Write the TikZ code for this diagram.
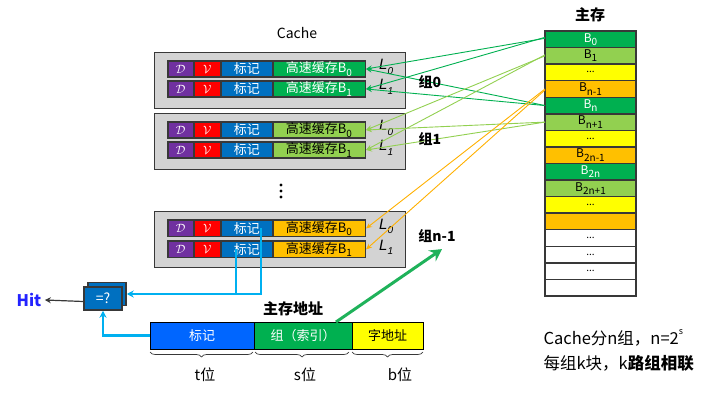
\documentclass[tikz,border=0pt]{standalone}
\usepackage{fontspec}
\setmainfont{Noto Sans CJK SC}
\newfontfamily\latinit{Liberation Sans}
\usetikzlibrary{arrows.meta, positioning, decorations.pathreplacing}
\definecolor{memgreen}{HTML}{00B050}
\definecolor{memlight}{HTML}{92D050}
\definecolor{memyellow}{HTML}{FFFF00}
\definecolor{memorange}{HTML}{FFC000}
\definecolor{orangeline}{HTML}{FFB000}
\definecolor{tagblue}{HTML}{0070C0}
\definecolor{dirtypurple}{HTML}{7030A0}
\definecolor{validred}{HTML}{FF0000}
\definecolor{framegray}{HTML}{383838}
\definecolor{setgray}{HTML}{D3D3D3}
\definecolor{cmpcyan}{HTML}{00B0F0}
\definecolor{addrblue}{HTML}{0066FF}
\definecolor{hitblue}{HTML}{2323FF}
\definecolor{arrowgreen}{HTML}{1FB25A}
\newcommand{\fsz}[1]{\fontsize{#1}{#1}\selectfont}
\newcommand{\blk}[1]{B\raisebox{-0.5ex}{\fsz{10}#1}}
\newcommand{\lineL}[1]{{\latinit\itshape L\raisebox{-0.55ex}{\fsz{10}#1}}}

\begin{document}
\begin{tikzpicture}[
    x=1pt, y=-1pt,
    setbox/.style={draw=framegray, fill=setgray, line width=0.8pt, minimum width=251pt, minimum height=56pt, inner sep=0pt},
    rowframe/.style={fill=framegray, minimum width=199pt, minimum height=18pt, inner sep=0pt, outer sep=0pt},
    cell/.style={fill=#1, minimum height=14.5pt, inner sep=0pt, outer sep=0pt, font=\fsz{13}},
    dcell/.style={cell=dirtypurple, minimum width=24.5pt, text=white, font=\fsz{12}},
    vcell/.style={cell=validred, minimum width=25.5pt, text=white, font=\fsz{12}},
    tagcell/.style={cell=tagblue, minimum width=50.5pt, text=white},
    datacell/.style={cell=#1, minimum width=91pt},
    linelbl/.style={font=\fsz{15}, inner sep=0pt},
    memrow/.style={draw=framegray, line width=1.5pt, fill=#1, minimum width=91pt, minimum height=16.56pt, inner sep=0pt, outer sep=0pt, font=\fsz{12}},
    memlink/.style={-{Stealth[length=6pt,width=5pt]}, line width=0.9pt, color=#1},
    cmpbox/.style={draw=framegray, fill=tagblue, line width=1.5pt, minimum width=38pt, minimum height=23pt, inner sep=0pt, text=white, font=\fsz{14}},
    cmpline/.style={color=cmpcyan, line width=2.2pt},
    addrcell/.style={draw=black, fill=#1, line width=0.8pt, minimum height=27pt, inner sep=0pt, outer sep=0pt, font=\fsz{13}},
    brace/.style={decorate, decoration={brace, mirror, amplitude=5pt}, color=framegray, line width=0.7pt},
    lbl/.style={font=\fsz{14}\bfseries},
    dotmark/.style={circle, fill=black, inner sep=0pt, minimum size=3.2pt},
]
\useasboundingbox (0,0) rectangle (716,401);

% Titles
\node[font=\fsz{14}] (cachettl) at (297, 33) {Cache};
\node[font=\fsz{15}\bfseries] (memttl) at (590, 15) {主存};

% Set 0
\node[setbox] (set0) at (279.5, 80) {};
\node[rowframe] (r0a) at (266.5, 69) {};
\node[dcell, anchor=west] (d0a) at ([xshift=1.5pt]r0a.west) {$\mathcal{D}$};
\node[vcell, right=1.5pt of d0a] (v0a) {$\mathcal{V}$};
\node[tagcell, right=1.5pt of v0a] (t0a) {标记};
\node[datacell=memgreen, text=white, right=1.5pt of t0a] (c0a) {高速缓存\blk{0}};
\node[rowframe] (r0b) at (266.5, 89) {};
\node[dcell, anchor=west] (d0b) at ([xshift=1.5pt]r0b.west) {$\mathcal{D}$};
\node[vcell, right=1.5pt of d0b] (v0b) {$\mathcal{V}$};
\node[tagcell, right=1.5pt of v0b] (t0b) {标记};
\node[datacell=memgreen, text=white, right=1.5pt of t0b] (c0b) {高速缓存\blk{1}};
\node[linelbl, right=13pt of r0a, yshift=2pt] (l0a) {\lineL{0}};
\node[linelbl, right=13pt of r0b, yshift=2pt] (l0b) {\lineL{1}};

% Set 1
\node[setbox] (set1) at (279.5, 141) {};
\node[rowframe] (r1a) at (266.5, 130) {};
\node[dcell, anchor=west] (d1a) at ([xshift=1.5pt]r1a.west) {$\mathcal{D}$};
\node[vcell, right=1.5pt of d1a] (v1a) {$\mathcal{V}$};
\node[tagcell, right=1.5pt of v1a] (t1a) {标记};
\node[datacell=memlight, right=1.5pt of t1a] (c1a) {高速缓存\blk{0}};
\node[rowframe] (r1b) at (266.5, 150) {};
\node[dcell, anchor=west] (d1b) at ([xshift=1.5pt]r1b.west) {$\mathcal{D}$};
\node[vcell, right=1.5pt of d1b] (v1b) {$\mathcal{V}$};
\node[tagcell, right=1.5pt of v1b] (t1b) {标记};
\node[datacell=memlight, right=1.5pt of t1b] (c1b) {高速缓存\blk{1}};
\node[linelbl, right=13pt of r1a, yshift=2pt] (l1a) {\lineL{0}};
\node[linelbl, right=13pt of r1b, yshift=2pt] (l1b) {\lineL{1}};

% Vertical ellipsis
\node[dotmark] (dot1) at (281, 185) {};
\node[dotmark] (dot2) at (281, 191) {};
\node[dotmark] (dot3) at (281, 197) {};

% Set n-1
\node[setbox] (setn) at (279.5, 239.5) {};
\node[rowframe] (rna) at (266.5, 228.5) {};
\node[dcell, anchor=west] (dna) at ([xshift=1.5pt]rna.west) {$\mathcal{D}$};
\node[vcell, right=1.5pt of dna] (vna) {$\mathcal{V}$};
\node[tagcell, right=1.5pt of vna] (tna) {标记};
\node[datacell=memorange, right=1.5pt of tna] (cna) {高速缓存\blk{0}};
\node[rowframe] (rnb) at (266.5, 249.5) {};
\node[dcell, anchor=west] (dnb) at ([xshift=1.5pt]rnb.west) {$\mathcal{D}$};
\node[vcell, right=1.5pt of dnb] (vnb) {$\mathcal{V}$};
\node[tagcell, right=1.5pt of vnb] (tnb) {标记};
\node[datacell=memorange, right=1.5pt of tnb] (cnb) {高速缓存\blk{1}};
\node[linelbl, right=13pt of rna, yshift=2pt] (lna) {\lineL{0}};
\node[linelbl, right=13pt of rnb, yshift=2pt] (lnb) {\lineL{1}};

% Main memory
\node[memrow=memgreen, text=white] (m0) at (590.5, 39.3) {\blk{0}};
\node[memrow=memlight, below=0pt of m0] (m1) {\blk{1}};
\node[memrow=memyellow, below=0pt of m1] (m2) {\fsz{10}...};
\node[memrow=memorange, below=0pt of m2] (m3) {\blk{n-1}};
\node[memrow=memgreen, text=white, below=0pt of m3] (m4) {\blk{n}};
\node[memrow=memlight, below=0pt of m4] (m5) {\blk{n+1}};
\node[memrow=memyellow, below=0pt of m5] (m6) {\fsz{10}...};
\node[memrow=memorange, below=0pt of m6] (m7) {\blk{2n-1}};
\node[memrow=memgreen, text=white, below=0pt of m7] (m8) {\blk{2n}};
\node[memrow=memlight, below=0pt of m8] (m9) {\blk{2n+1}};
\node[memrow=memyellow, below=0pt of m9] (m10) {\fsz{10}...};
\node[memrow=memorange, below=0pt of m10] (m11) {};
\node[memrow=white, below=0pt of m11] (m12) {\fsz{10}...};
\node[memrow=white, below=0pt of m12] (m13) {\fsz{10}...};
\node[memrow=white, below=0pt of m13] (m14) {\fsz{10}...};
\node[memrow=white, below=0pt of m14] (m15) {};

% Mapping lines
\draw[memlink=memgreen] ([yshift=1pt]m0.west) -- (r0a.east);
\draw[memlink=memgreen] ([yshift=2pt]m0.west) -- (r0b.east);
\draw[memlink=memgreen] (m4.west) -- (r0a.east);
\draw[memlink=memgreen] (m4.west) -- (r0b.east);
\draw[memlink=memlight] (m1.west) -- (r1a.east);
\draw[memlink=memlight] ([yshift=1pt]m1.west) -- (r1b.east);
\draw[memlink=memlight] (m5.west) -- (r1a.east);
\draw[memlink=memlight] (m5.west) -- (r1b.east);
\draw[memlink=orangeline] (m3.west) -- (rna.east);
\draw[memlink=orangeline] ([yshift=-1pt]m3.west) -- (rnb.east);

% Set labels
\node[lbl] (g0lbl) at (430, 82) {组0};
\node[lbl] (g1lbl) at (430, 139) {组1};
\node[lbl] (gnlbl) at (437, 236) {组n-1};

% Address
\node[font=\fsz{15}\bfseries] (addrlbl) at (293, 309) {主存地址};
\node[addrcell=addrblue, text=white, minimum width=104pt] (atag) at (202, 335.5) {标记};
\node[addrcell=memgreen, text=white, minimum width=98pt, right=0pt of atag] (agrp) {组（索引）};
\node[addrcell=memyellow, minimum width=71pt, right=0pt of agrp] (aword) {字地址};
\draw[brace] ([yshift=-3pt]atag.south west) -- ([xshift=-1pt, yshift=-3pt]atag.south east);
\draw[brace] ([xshift=1pt, yshift=-3pt]agrp.south west) -- ([xshift=-3pt, yshift=-3pt]agrp.south east);
\draw[brace] ([yshift=-3pt]aword.south west) -- ([yshift=-3pt]aword.south east);
\node[font=\fsz{15}] (tbits) at (205, 375) {t位};
\node[font=\fsz{15}] (sbits) at (305, 375) {s位};
\node[font=\fsz{15}] (bbits) at (400, 375) {b位};
\draw[-{Stealth[length=12pt,width=13pt,inset=4pt]}, line width=3pt, color=arrowgreen] ([xshift=33pt]agrp.north) -- ([xshift=5pt, yshift=-3pt]gnlbl.south);

% Comparator
\node[cmpbox] (cmpb) at (107, 294) {};
\node[cmpbox] (cmp) at (103, 298.5) {=?};
\node[font=\fsz{16}\bfseries, text=hitblue] (hit) at (29, 300) {Hit};
\draw[cmpline, -{Stealth[length=7pt,width=7pt]}] ([xshift=14.5pt]tna.center) |- (cmpb.east);
\draw[cmpline] ([xshift=-10.5pt]tnb.center) -- ([xshift=-10.5pt]tnb.center |- cmpb.east);
\draw[cmpline, -{Stealth[length=7pt,width=7pt]}] (atag.west) -| (cmp.south);
\draw[-{Stealth[length=6pt,width=6pt]}, color=framegray, line width=1.2pt] ([yshift=-3pt]cmp.west) -- (hit.east);

% Note
\node[anchor=west, font=\fsz{16.5}] (note1) at (540, 338) {Cache分n组，n=2\raisebox{1.1ex}{\fsz{9}s}};
\node[anchor=west, font=\fsz{16.5}] (note2) at (540, 363) {每组k块，k\textbf{路组相联}};
\end{tikzpicture}
\end{document}
